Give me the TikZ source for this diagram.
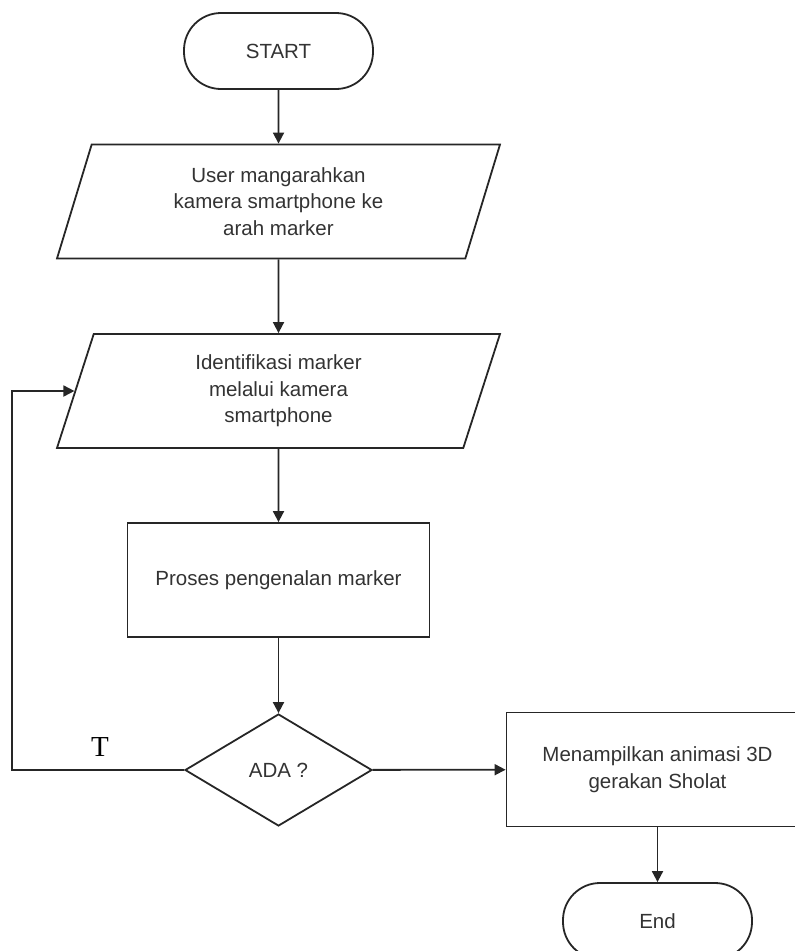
\documentclass[tikz,border=0pt]{standalone}
\usepackage{fontspec}
\setmainfont{Liberation Serif}
\setsansfont{Liberation Sans}
\usetikzlibrary{shapes.geometric,arrows.meta}

\begin{document}
\begin{tikzpicture}[x=1pt,y=-1pt,->,>={Triangle[length=11pt,width=11pt]},draw=black!85,line width=1.8pt]
    \tikzstyle{every node}=[font=\sffamily\fontsize{20.5}{26.5}\selectfont,text=black!80,align=center]
    \tikzstyle{terminal}=[rectangle,rounded corners=37pt,draw,minimum width=189pt,minimum height=76pt];
    \tikzstyle{io}=[trapezium,trapezium left angle=63,trapezium right angle=117,trapezium stretches body,draw,minimum width=443pt,minimum height=114pt,inner sep=0pt];
    \tikzstyle{proses}=[rectangle,draw,minimum width=302pt,minimum height=114pt];
    \tikzstyle{keputusan}=[diamond,draw,aspect=1.67,minimum width=187pt,minimum height=112pt,inner sep=0pt];
    \tikzstyle{label T}=[font=\rmfamily\fontsize{29}{29}\selectfont,text=black,anchor=base];

    \useasboundingbox (0,0) rectangle (795,951);

    % Draw the main column
    \node[terminal] (start) at (278.5,51) {START};
    \node[io] (user) at (278.5,201.5) {User mangarahkan\\kamera smartphone ke\\arah marker};
    \node[io] (ident) at (278.5,391) {Identifikasi marker\\melalui kamera\\smartphone};
    \node[proses] (pengenalan) at (278.5,580) {Proses pengenalan marker};
    \node[keputusan] (ada) at (278.5,770) {ADA ?};

    % Draw the right column
    \node[proses] (tampil) at (657.5,769.5) {Menampilkan animasi 3D\\gerakan Sholat};
    \node[terminal] (end) at (657.5,921) {End};

    % Connect the steps
    \path (start) edge (user);
    \path (user) edge (ident);
    \path (ident) edge (pengenalan);
    \path (pengenalan) edge (ada);
    \path (ada) edge (tampil);
    \path (tampil) edge (end);

    % Loop back when no marker is found
    \coordinate (kiri) at (12,770);
    \draw (ada.west) -- (kiri) |- (ident.left side);
    \node[label T] (t) at (100,756) {T};
\end{tikzpicture}
\end{document}
